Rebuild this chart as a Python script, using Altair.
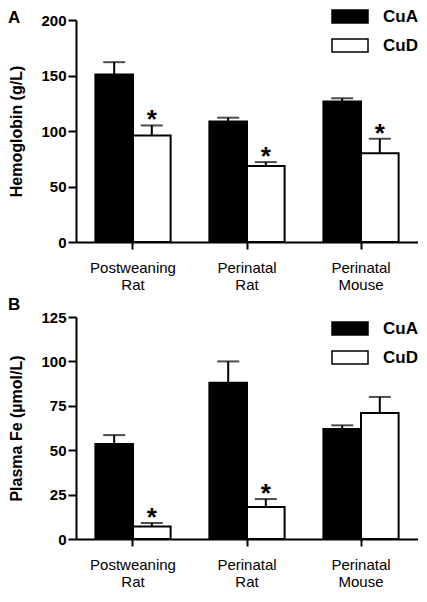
import altair as alt
import pandas as pd

categories = ["Postweaning Rat", "Perinatal Rat", "Perinatal Mouse"]
groups = ["CuA", "CuD"]

hb_cua = [151, 108.5, 126.5]
hb_cua_err = [11, 3.5, 3]
hb_cud = [96, 68.5, 80]
hb_cud_err = [9, 3.5, 13]
hb_sig = [True, True, True]

fe_cua = [53.5, 88, 62]
fe_cua_err = [5, 12, 2]
fe_cud = [7, 18, 71]
fe_cud_err = [2, 4.5, 9]
fe_sig = [True, True, False]

FONT = "Liberation Sans"
RECT = "M-1,-1L4.54,-1L4.54,1L-1,1Z"
W = 342
H = 222


def make_df(cua, cua_err, cud, cud_err, sig):
    rows = []
    for i, c in enumerate(categories):
        rows.append(dict(cat=c, grp="CuA", val=cua[i], top=cua[i] + cua_err[i], star=""))
        rows.append(dict(cat=c, grp="CuD", val=cud[i], top=cud[i] + cud_err[i],
                         star="*" if sig[i] else ""))
    return pd.DataFrame(rows)


def panel(df, ytitle, ymax, ystep, label, label_y, legend_y):
    x = alt.X("cat:N", sort=categories, title=None,
              scale=alt.Scale(paddingInner=0.34, paddingOuter=0.17),
              axis=alt.Axis(labelExpr="split(datum.label, ' ')", labelAngle=0,
                            labelFont=FONT, labelFontSize=15, labelColor="black",
                            labelLineHeight=17, labelPadding=11, tickSize=7,
                            tickWidth=2, tickColor="black", domainColor="black",
                            domainWidth=2, grid=False))
    xo = alt.XOffset("grp:N", sort=groups, scale=alt.Scale(paddingInner=0, paddingOuter=0))
    yaxis = alt.Axis(values=list(range(0, ymax + 1, ystep)), grid=False,
                     labelFont=FONT, labelFontSize=15, labelFontWeight="bold",
                     labelColor="black", labelPadding=2, tickSize=8, tickWidth=2,
                     tickColor="black", domainColor="black", domainWidth=2,
                     titleFont=FONT, titleFontSize=16, titleFontWeight="bold",
                     titleColor="black", titlePadding=16)
    yscale = alt.Scale(domain=[0, ymax], nice=False)
    base = alt.Chart(df)
    err = base.mark_rule(color="black", strokeWidth=2).encode(
        x=x, xOffset=xo, y=alt.Y("val:Q", title=ytitle, scale=yscale, axis=yaxis), y2="top:Q")
    caps = base.mark_tick(color="black", thickness=2, size=22, orient="horizontal").encode(
        x=x, xOffset=xo, y=alt.Y("top:Q", scale=yscale))
    bars = base.mark_bar(stroke="black", strokeWidth=2).encode(
        x=x, xOffset=xo, y=alt.Y("val:Q", scale=yscale),
        fill=alt.Fill("grp:N", sort=groups,
                      scale=alt.Scale(domain=groups, range=["black", "white"]),
                      legend=alt.Legend(title=None, orient="none", legendX=254,
                                        legendY=legend_y, symbolType=RECT,
                                        symbolSize=169, symbolStrokeColor="black",
                                        symbolStrokeWidth=1.5, symbolOpacity=1,
                                        labelFont=FONT, labelFontSize=17,
                                        labelFontWeight="bold", labelColor="black",
                                        labelOffset=36, rowPadding=10)))
    stars = base.mark_text(font=FONT, fontSize=26, fontWeight="bold", color="black",
                           baseline="alphabetic", dy=3).encode(
        x=x, xOffset=xo, y=alt.Y("top:Q", scale=yscale), text="star:N")
    lab = alt.Chart(pd.DataFrame({"t": [label]})).mark_text(
        font=FONT, fontSize=17, fontWeight="bold", color="black",
        align="left", baseline="alphabetic").encode(
        x=alt.value(-68), y=alt.value(label_y), text="t:N")
    return alt.layer(err, caps, bars, stars, lab).properties(width=W, height=H)


hb = make_df(hb_cua, hb_cua_err, hb_cud, hb_cud_err, hb_sig)
fe = make_df(fe_cua, fe_cua_err, fe_cud, fe_cud_err, fe_sig)

pa = panel(hb, "Hemoglobin (g/L)", 200, 50, "A", 3, -12)
pb = panel(fe, "Plasma Fe (µmol/L)", 125, 25, "B", -7, 3)

chart = alt.vconcat(pa, pb, spacing=4).resolve_scale(fill="independent").resolve_legend(
    fill="independent").properties(padding=0).configure_view(stroke=None)

chart.save("out.html", embed_options={"renderer": "svg", "actions": False})
